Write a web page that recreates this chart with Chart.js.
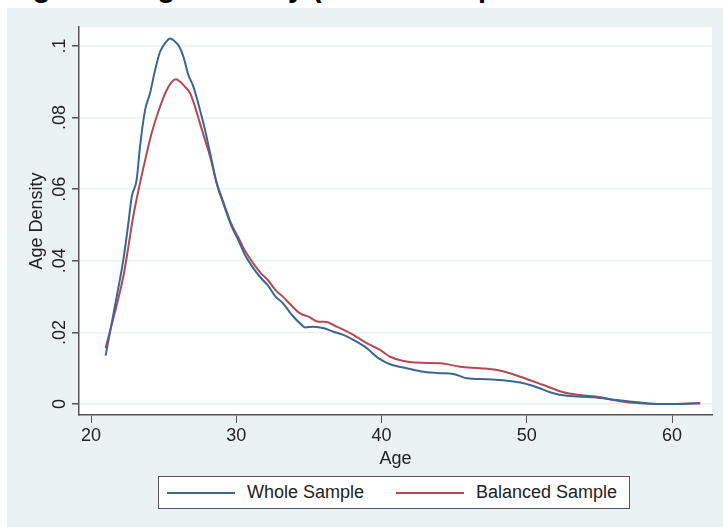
<!DOCTYPE html>
<html>
<head>
<meta charset="utf-8">
<script src="https://cdn.jsdelivr.net/npm/chart.js@4"></script>
<style>
  html, body { margin:0; padding:0; background:#fff; width:723px; height:527px; overflow:hidden; font-family:"Liberation Sans", Arial, sans-serif; }
  #titre { position:absolute; left:0; top:0; width:723px; height:8px; overflow:hidden; }
  #titre span { position:absolute; left:7px; top:-27px; font-size:29px; line-height:29px; font-weight:bold; color:#000; white-space:nowrap; }
  #fond { position:absolute; left:7px; top:8px; width:716px; height:519px; background:#eaf2f3; }
  #graph { position:absolute; left:7px; top:8px; }
  #legende { position:absolute; left:158px; top:476px; width:470px; height:31px; background:#fff; border:1px solid #555;
    font-size:18px; color:#222; }
  .item { position:absolute; top:0; height:31px; line-height:31px; }
  .trait { position:absolute; top:15px; width:68px; height:2px; }
</style>
</head>
<body>
<div id="titre"><span>Figure 2: Age Density (Whole Sample vs Balanced Sample)</span></div>
<div id="fond"></div>
<canvas id="graph" width="716" height="519"></canvas>
<div id="legende"></div>
<script>
// Densité des âges : échantillon complet vs échantillon équilibré
const ageWhole = [21.0, 22.0, 22.22, 22.57, 22.8, 23.14, 23.37, 23.72, 24.06, 24.41, 24.75, 25.1, 25.44, 25.79, 26.08, 26.36, 26.7, 27.05, 27.5, 27.85, 28.2, 28.65, 29.1, 29.69, 30.14, 30.6, 31.18, 31.7, 32.2, 32.7, 33.2, 33.8, 34.39, 34.74, 35.31, 36.1, 36.68, 37.37, 38.06, 38.98, 39.78, 40.59, 41.74, 42.89, 44.04, 44.95, 45.87, 47.25, 48.62, 49.77, 50.69, 51.83, 52.75, 54.59, 56.2, 57.81, 58.96, 60.1, 61.94];
const densWhole = [0.0135, 0.0351, 0.0402, 0.0505, 0.0579, 0.0626, 0.0719, 0.0821, 0.0868, 0.0933, 0.0984, 0.1008, 0.1021, 0.1012, 0.0998, 0.0970, 0.0919, 0.0886, 0.0821, 0.0765, 0.0700, 0.0617, 0.0561, 0.0495, 0.0458, 0.0416, 0.0379, 0.0352, 0.0330, 0.0300, 0.0282, 0.0250, 0.0225, 0.0214, 0.0216, 0.0211, 0.0202, 0.0193, 0.0179, 0.0156, 0.0128, 0.0111, 0.0100, 0.0090, 0.0086, 0.0084, 0.0072, 0.0069, 0.0065, 0.0058, 0.0047, 0.0030, 0.0023, 0.0019, 0.0011, 0.0004, 0.0000, 0.0000, 0.0002];

const ageBalanced = [21.0, 22.22, 22.57, 22.9, 23.37, 23.83, 24.17, 24.52, 24.87, 25.21, 25.56, 25.85, 26.13, 26.47, 26.82, 27.16, 27.5, 27.85, 28.2, 28.65, 29.1, 29.69, 30.14, 30.6, 31.18, 31.7, 32.2, 32.7, 33.2, 33.8, 34.39, 34.97, 35.65, 36.1, 36.92, 38.06, 38.98, 39.9, 40.59, 41.51, 42.66, 44.04, 45.41, 46.79, 47.94, 48.84, 49.99, 51.14, 52.51, 53.66, 55.06, 56.43, 57.81, 58.96, 60.1, 61.94];
const densBalanced = [0.0156, 0.0356, 0.0439, 0.0523, 0.0617, 0.0700, 0.0756, 0.0803, 0.0844, 0.0877, 0.0900, 0.0907, 0.0900, 0.0886, 0.0868, 0.0830, 0.0784, 0.0737, 0.0691, 0.0617, 0.0565, 0.0500, 0.0465, 0.0428, 0.0392, 0.0365, 0.0345, 0.0318, 0.0300, 0.0275, 0.0253, 0.0244, 0.0230, 0.0230, 0.0216, 0.0193, 0.0170, 0.0151, 0.0132, 0.0120, 0.0115, 0.0114, 0.0104, 0.0100, 0.0095, 0.0086, 0.0070, 0.0053, 0.0033, 0.0025, 0.0019, 0.0008, 0.0002, 0.0000, 0.0000, 0.0002];

const seriesNoms = ['Whole Sample', 'Balanced Sample'];
const seriesCouleurs = ['#3a6794', '#b34a52'];
const xTicks = [20, 30, 40, 50, 60];
const yTicks = [0, 0.02, 0.04, 0.06, 0.08, 0.1];
const yTickLabels = ['0', '.02', '.04', '.06', '.08', '.1'];

const police = '"Liberation Sans", Arial, sans-serif';

function points(xs, ys) { return xs.map((x, i) => ({x: x, y: ys[i]})); }

// fond blanc de la zone de tracé + étiquettes verticales de l'axe y
const pluginStata = {
  id: 'stata',
  beforeDraw(chart) {
    const a = chart.chartArea, ctx = chart.ctx;
    ctx.save();
    ctx.fillStyle = '#fff';
    ctx.fillRect(a.left, a.top, a.right - a.left, a.bottom - a.top);
    ctx.restore();
  },
  afterDraw(chart) {
    const ctx = chart.ctx, y = chart.scales.y;
    ctx.save();
    ctx.font = '18px ' + police;
    ctx.fillStyle = '#222';
    ctx.textAlign = 'center';
    ctx.textBaseline = 'alphabetic';
    yTicks.forEach((v, i) => {
      const py = y.getPixelForValue(v);
      ctx.save();
      ctx.translate(58, py);
      ctx.rotate(-Math.PI / 2);
      ctx.fillText(yTickLabels[i], 0, 0);
      ctx.restore();
    });
    ctx.restore();
  }
};

new Chart(document.getElementById('graph'), {
  type: 'line',
  data: {
    datasets: [
      {label: seriesNoms[0], data: points(ageWhole, densWhole), borderColor: seriesCouleurs[0], borderWidth: 2, pointRadius: 0, cubicInterpolationMode: 'monotone', fill: false},
      {label: seriesNoms[1], data: points(ageBalanced, densBalanced), borderColor: seriesCouleurs[1], borderWidth: 2, pointRadius: 0, cubicInterpolationMode: 'monotone', fill: false}
    ]
  },
  options: {
    responsive: false,
    animation: false,
    layout: {padding: {left: 19.2, right: 11, top: 19, bottom: 57.2}},
    plugins: {legend: {display: false}, tooltip: {enabled: false}},
    scales: {
      x: {
        type: 'linear', min: 19.17, max: 62.75,
        afterBuildTicks: s => { s.ticks = xTicks.map(v => ({value: v})); },
        afterFit: s => { s.height = 54.8; },
        grid: {drawOnChartArea: false, drawTicks: true, tickLength: 8, tickColor: '#555'},
        border: {display: true, color: '#555', width: 1.5},
        ticks: {font: {size: 18, family: police}, color: '#222', padding: 2, maxRotation: 0},
        title: {display: true, text: 'Age', font: {size: 18, family: police}, color: '#222', padding: 0}
      },
      y: {
        type: 'linear', min: -0.00307, max: 0.10531,
        afterBuildTicks: s => { s.ticks = yTicks.map(v => ({value: v})); },
        afterFit: s => { s.width = 52.8; },
        grid: {color: '#eaf2f3', lineWidth: 1.5, tickLength: 7, tickColor: '#555'},
        border: {display: true, color: '#555', width: 1.5},
        ticks: {display: false},
        title: {display: true, text: 'Age Density', font: {size: 18, family: police}, color: '#222', padding: 0}
      }
    }
  },
  plugins: [pluginStata]
});

// légende encadrée, centrée sous le graphique
const leg = document.getElementById('legende');
const posTrait = [8, 237], posTexte = [88, 317];
seriesNoms.forEach((nom, i) => {
  const t = document.createElement('div');
  t.className = 'trait';
  t.style.left = posTrait[i] + 'px';
  t.style.background = seriesCouleurs[i];
  leg.appendChild(t);
  const s = document.createElement('div');
  s.className = 'item';
  s.style.left = posTexte[i] + 'px';
  s.textContent = nom;
  leg.appendChild(s);
});
</script>
</body>
</html>
